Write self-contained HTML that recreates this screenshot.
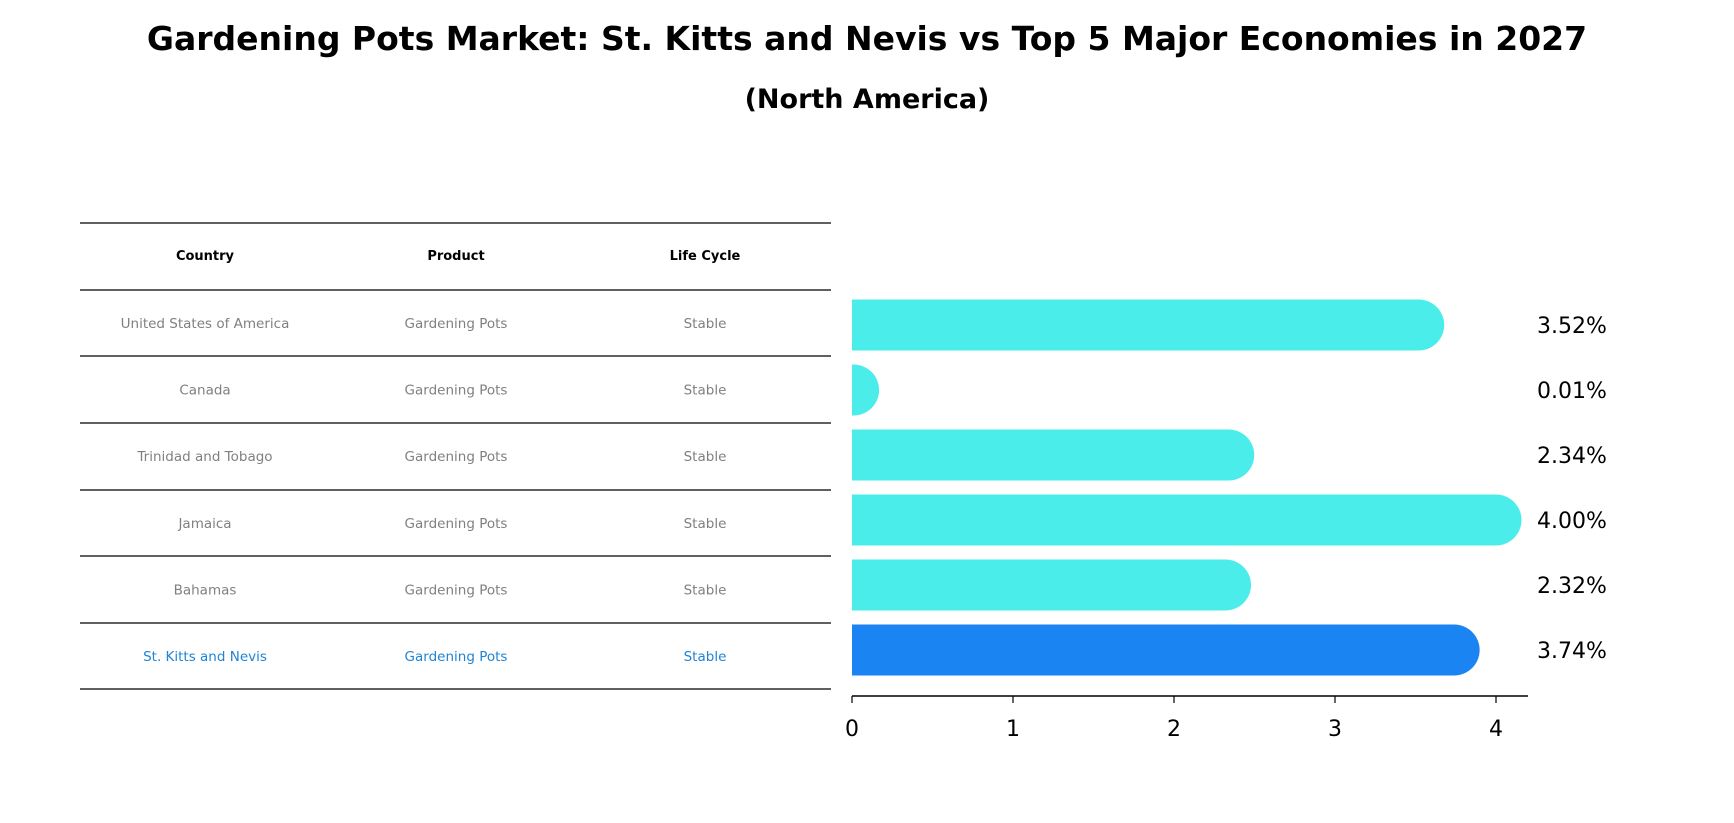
<!DOCTYPE html>
<html><head><meta charset="utf-8"><style>
html,body{margin:0;padding:0;background:#fff;}
svg{display:block;font-family:"DejaVu Sans","Liberation Sans",sans-serif;}
</style></head><body>
<svg id="chart" width="1734" height="823" viewBox="0 0 1734 823">
<text x="867" y="50" text-anchor="middle" font-size="33" font-weight="bold">Gardening Pots Market: St. Kitts and Nevis vs Top 5 Major Economies in 2027</text>
<text x="867" y="108" text-anchor="middle" font-size="27" font-weight="bold">(North America)</text>
<g id="table"></g>
<g id="bars"></g>
</svg>
<script>
const countries=["United States of America","Canada","Trinidad and Tobago","Jamaica","Bahamas","St. Kitts and Nevis"];
const products=["Gardening Pots","Gardening Pots","Gardening Pots","Gardening Pots","Gardening Pots","Gardening Pots"];
const lifeCycles=["Stable","Stable","Stable","Stable","Stable","Stable"];
const values=[3.52,0.01,2.34,4.00,2.32,3.74];
const labels=["3.52%","0.01%","2.34%","4.00%","2.32%","3.74%"];
const ticks=[0,1,2,3,4];
const NS="http://www.w3.org/2000/svg";
function mk(tag,attrs,parent,text){const e=document.createElementNS(NS,tag);for(const k in attrs)e.setAttribute(k,attrs[k]);if(text!==undefined)e.textContent=text;parent.appendChild(e);return e;}
const table=document.getElementById('table');
const lineYs=[223,290,356,423,490,556,623,689];
lineYs.forEach(y=>{const l=mk('line',{x1:80,x2:831,y1:y,y2:y,stroke:'#000','stroke-width':1.2},table);

});
const colX=[205,456,705];
["Country","Product","Life Cycle"].forEach((h,i)=>{const t=mk('text',{x:colX[i],y:260,'text-anchor':'middle','font-size':13,'font-weight':'bold'},table,h);

});
function rowY(i){return 323+i*66.6;}
countries.forEach((c,i)=>{const col=i===countries.length-1?'#1f84d4':'#808080';
[c,products[i],lifeCycles[i]].forEach((v,j)=>{const t=mk('text',{x:colX[j],y:rowY(i)+5,'text-anchor':'middle','font-size':13.5,fill:col},table,v);

});});
const bars=document.getElementById('bars');
const x0=852,unit=161;
function xs(v){return x0+v*unit;}
function by(i){return 325+i*65;}
const bh=51;
values.forEach((v,i)=>{const hl=i===values.length-1;const col=hl?'#1a84f2':'#4aedea';
const xe=xs(v),yc=by(i),r=bh/2;let d;
if(v*unit<1){d=`M${x0},${yc-r}h2v${bh}h-2z`;}
else d=`M${x0},${yc-r}H${xe}A${r},${r} 0 0 1 ${xe},${yc+r}H${x0}Z`;
const p=mk('path',{d:d,fill:col},bars);


const t=mk('text',{x:1537,y:yc+8,'font-size':22},bars,labels[i]);

});
const ax=mk('line',{x1:x0,x2:1528,y1:696,y2:696,stroke:'#000','stroke-width':1.5},bars);


ticks.forEach(tk=>{const l=mk('line',{x1:xs(tk),x2:xs(tk),y1:696,y2:703,stroke:'#000','stroke-width':1.2},bars);


const t=mk('text',{x:xs(tk),y:736,'text-anchor':'middle','font-size':22},bars,String(tk));

});
</script>
</body></html>
